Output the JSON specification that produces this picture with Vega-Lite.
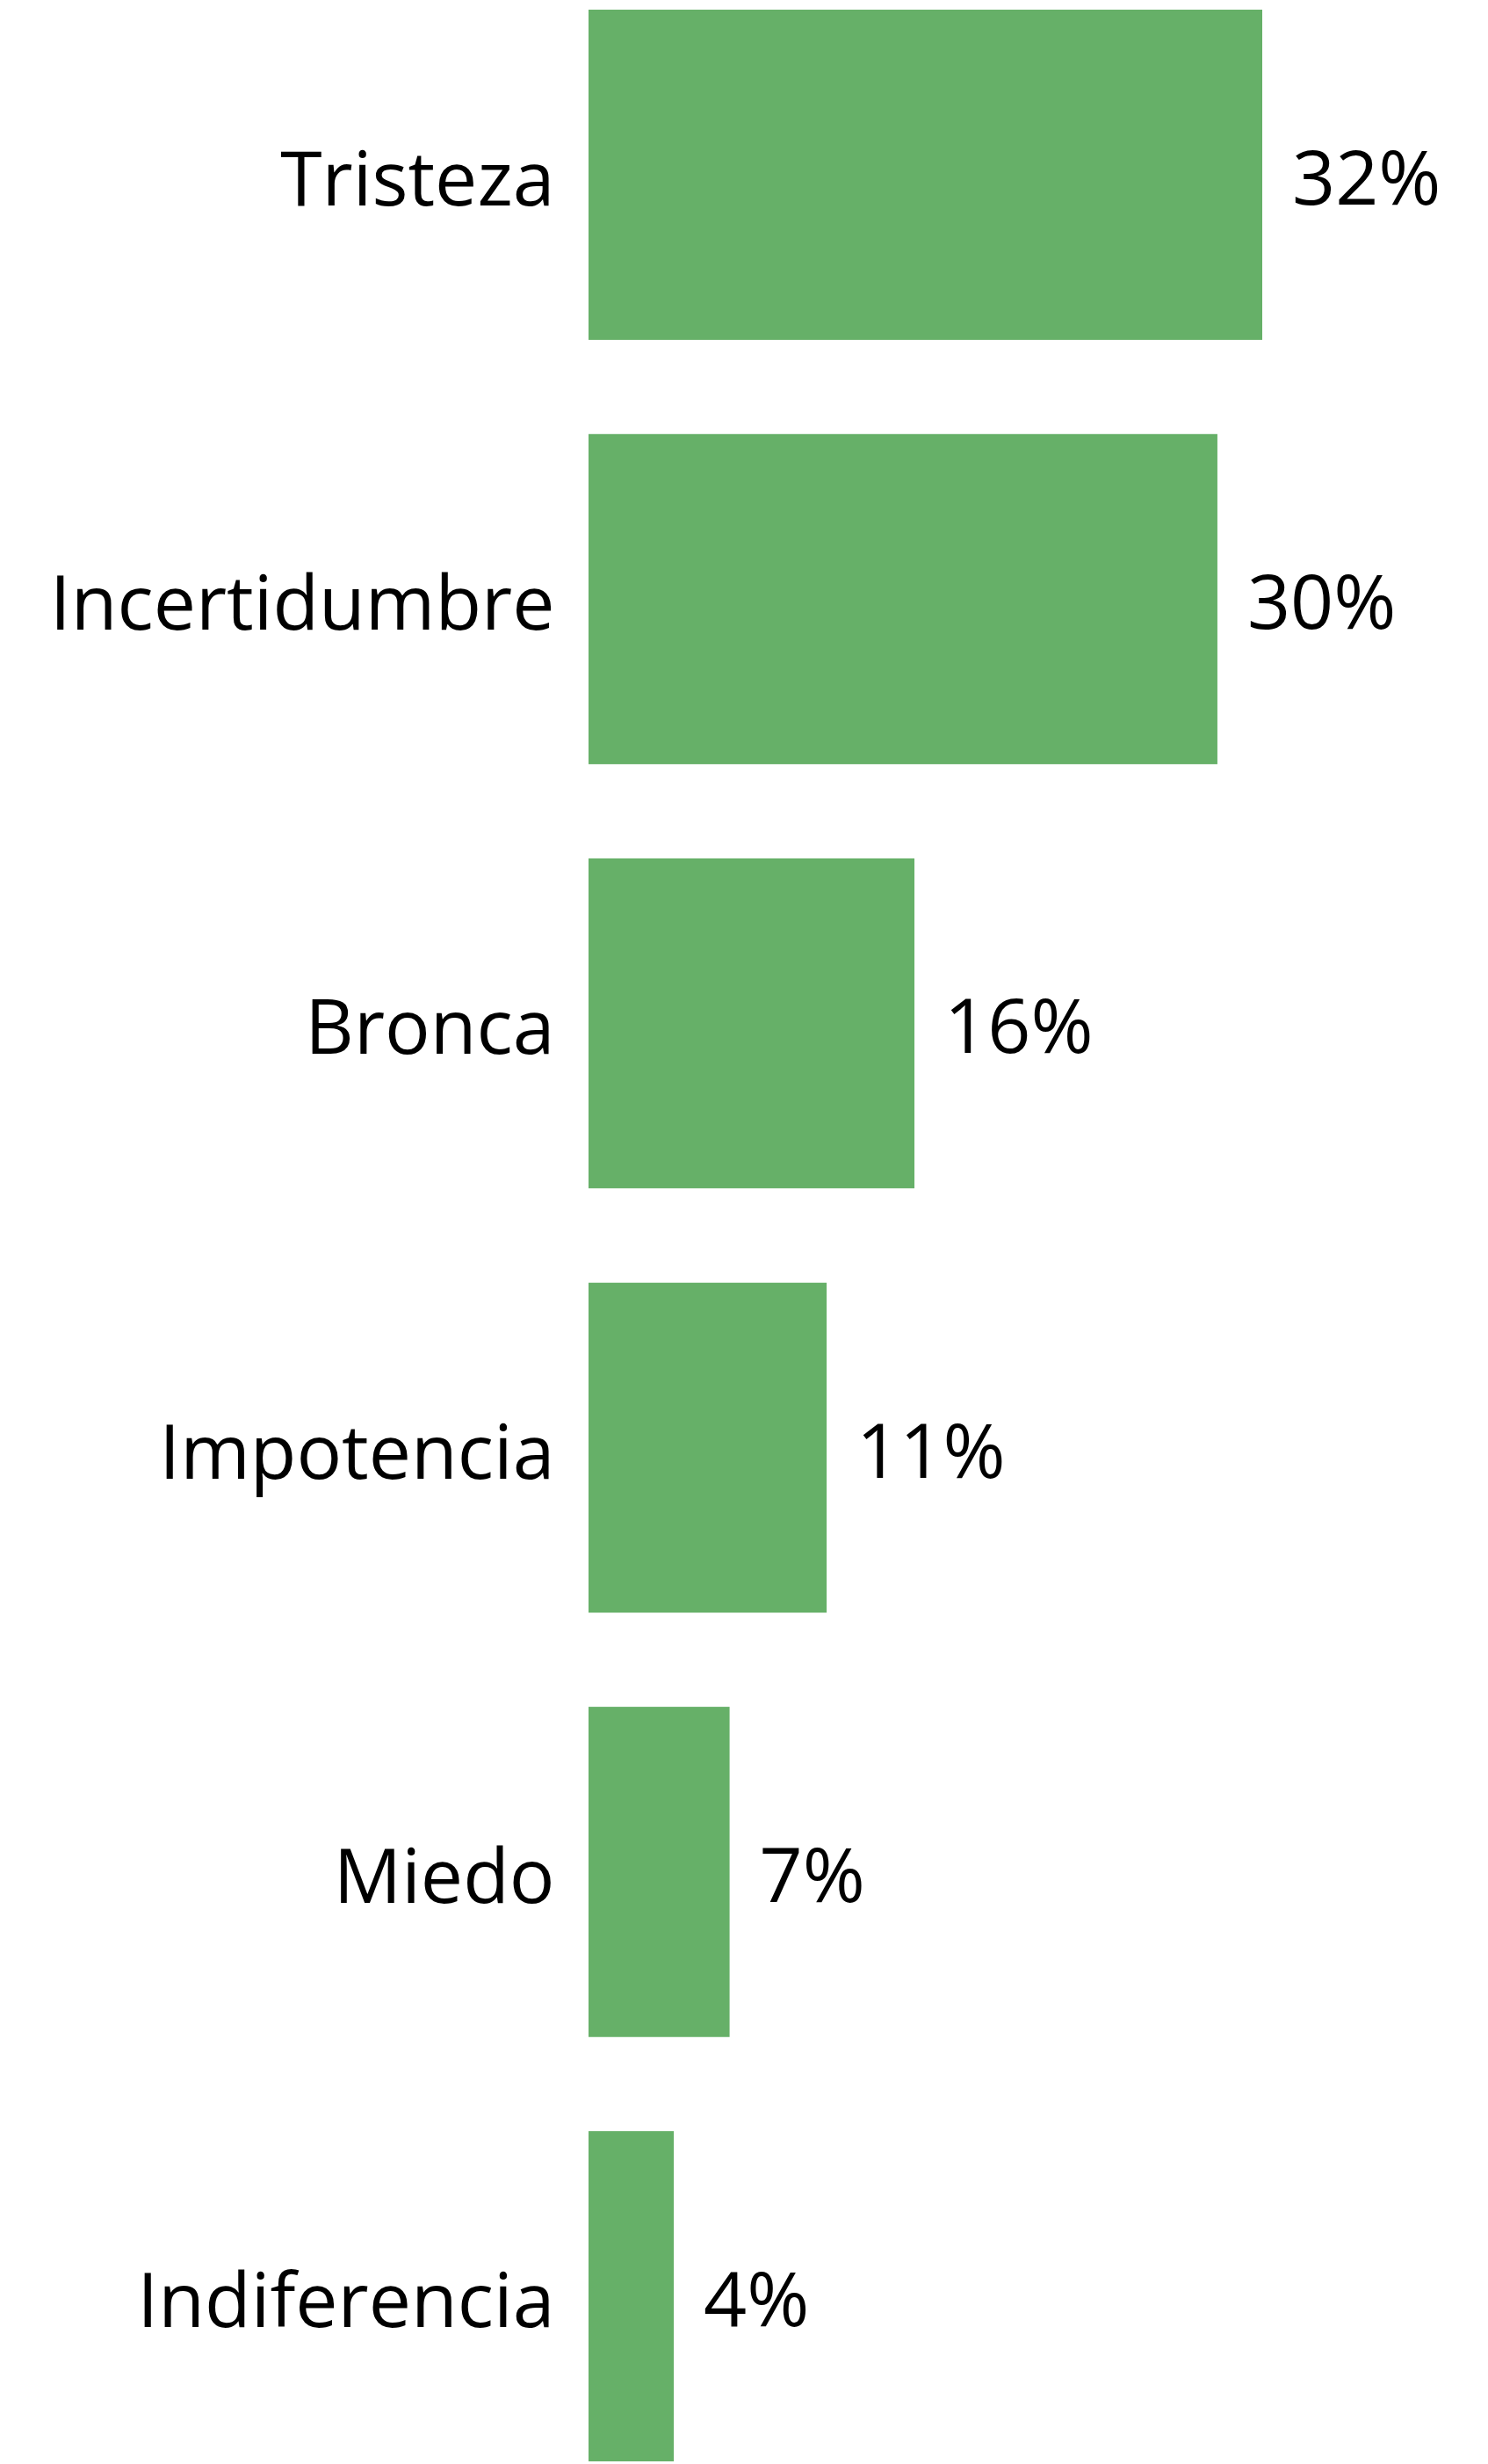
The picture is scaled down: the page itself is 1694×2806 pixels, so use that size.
{
  "$schema": "https://vega.github.io/schema/vega-lite/v6.json",
  "width": 767,
  "height": 2792,
  "autosize": {"type": "none"},
  "padding": {"left": 670, "top": 11, "right": 257, "bottom": 3},
  "background": "white",
  "config": {"view": {"stroke": null}, "font": "Open Sans"},
  "data": {
    "values": [
      {"emocion": "Tristeza", "valor": 32.0, "etiqueta": "32%"},
      {"emocion": "Incertidumbre", "valor": 29.87, "etiqueta": "30%"},
      {"emocion": "Bronca", "valor": 15.48, "etiqueta": "16%"},
      {"emocion": "Impotencia", "valor": 11.31, "etiqueta": "11%"},
      {"emocion": "Miedo", "valor": 6.7, "etiqueta": "7%"},
      {"emocion": "Indiferencia", "valor": 4.05, "etiqueta": "4%"}
    ]
  },
  "encoding": {
    "y": {
      "field": "emocion",
      "type": "nominal",
      "sort": null,
      "scale": {"paddingInner": 0.222, "paddingOuter": 0},
      "axis": {
        "title": null,
        "domain": false,
        "ticks": false,
        "labelPadding": 39,
        "labelOffset": 9,
        "labelFontSize": 86,
        "labelFont": "Open Sans",
        "labelColor": "black",
        "labelLimit": 1000
      }
    },
    "x": {
      "field": "valor",
      "type": "quantitative",
      "scale": {"domain": [0, 32], "nice": false},
      "axis": null
    }
  },
  "layer": [
    {"mark": {"type": "bar", "color": "#66B068"}},
    {
      "mark": {
        "type": "text",
        "align": "left",
        "baseline": "middle",
        "dx": 34,
        "dy": 8,
        "fontSize": 86,
        "font": "Open Sans",
        "color": "black"
      },
      "encoding": {"text": {"field": "etiqueta"}}
    }
  ]
}
